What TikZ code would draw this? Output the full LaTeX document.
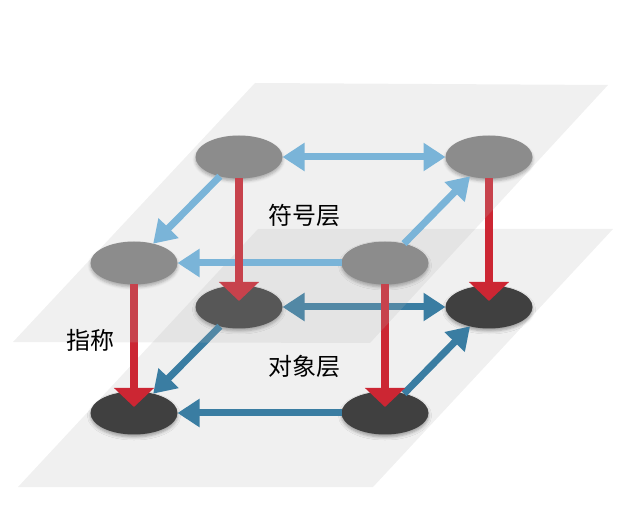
\documentclass[tikz,border=0pt]{standalone}
\usepackage{fontspec}
\newfontfamily\cjk{Noto Sans CJK SC}
\usetikzlibrary{shapes.geometric,arrows.meta,shadows.blur}
\definecolor{lblue}{HTML}{6CB5E1}
\definecolor{dblue}{HTML}{3A7DA2}
\definecolor{rred}{HTML}{CC2633}
\definecolor{topgray}{HTML}{828282}
\definecolor{botgray}{HTML}{404040}
\definecolor{planegray}{HTML}{B4B4B4}
\tikzset{
  bt/.tip={Triangle[width=27pt,length=22pt]},
  rt/.tip={Triangle[width=39pt,length=19pt]},
}
\begin{document}
\begin{tikzpicture}[x=1pt,y=-1pt,
  nd/.style={ellipse, minimum width=87pt, minimum height=43pt, inner sep=0pt, outer sep=0pt,
    blur shadow={shadow xshift=0pt, shadow yshift=-2.5pt, shadow blur radius=3pt, shadow opacity=35}},
  topnode/.style={nd, fill=topgray},
  botnode/.style={nd, fill=botgray},
  toparrow/.style={draw=lblue, line width=7pt},
  botarrow/.style={draw=dblue, line width=7pt},
  refarrow/.style={draw=rred, line width=8.5pt, -rt, shorten >=6pt},
  plane/.style={fill=planegray, fill opacity=0.2},
  lbl/.style={font=\cjk\fontsize{24}{24}\selectfont, text=black, inner sep=0pt},
]
\useasboundingbox (0,0) rectangle (632,526);

% bottom plane
\path[plane] (258,229) -- (613,229) -- (373,487) -- (18,487) -- cycle;

% bottom layer nodes
\node[botnode] (E) at (239,307) {};
\node[botnode] (F) at (489,307) {};
\node[botnode] (G) at (134,413) {};
\node[botnode] (H) at (385,413) {};

% bottom layer arrows
\draw[botarrow, bt-bt] (E) -- (F);
\draw[botarrow, -bt] (E) -- (G);
\draw[botarrow, -bt] (H) -- (G);
\draw[botarrow, -bt] (H) -- (F);

% top layer nodes
\node[topnode] (A) at (239,157) {};
\node[topnode] (B) at (489,157) {};
\node[topnode] (C) at (134,263) {};
\node[topnode] (D) at (385,263) {};

% top layer arrows
\draw[toparrow, bt-bt] (A) -- (B);
\draw[toparrow, -bt] (A) -- (C);
\draw[toparrow, -bt] (D) -- (C);
\draw[toparrow, -bt] (D) -- (B);

% reference arrows
\draw[refarrow] (A) -- (E.center);
\draw[refarrow] (B) -- (F.center);
\draw[refarrow] (C) -- (G.center);
\draw[refarrow] (D) -- (H.center);

% top plane (over everything beneath it)
\path[plane] (255,83) -- (608,85) -- (370,343) -- (13,342) -- cycle;

% labels
\node[lbl] (sym) at (304,215) {符号层};
\node[lbl] (obj) at (304,366) {对象层};
\node[lbl] (ref) at (90,340) {指称};
\end{tikzpicture}
\end{document}
